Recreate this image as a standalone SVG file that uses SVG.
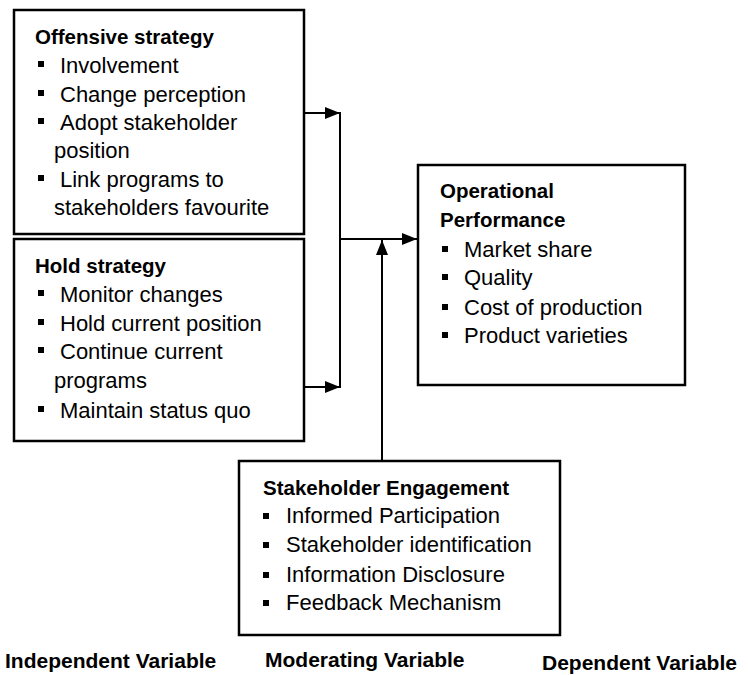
<svg xmlns="http://www.w3.org/2000/svg" width="748" height="675" viewBox="0 0 748 675">
<defs>
<style>
.box{fill:#fff;stroke:#000;stroke-width:2.5}
.t{font-family:"Liberation Sans",Arial,sans-serif;font-size:22px;fill:#000}
.b{font-family:"Liberation Sans",Arial,sans-serif;font-size:20.5px;font-weight:bold;fill:#000}
.lab{font-family:"Liberation Sans",Arial,sans-serif;font-size:21px;font-weight:bold;fill:#000}
.blt{fill:#000}
.c{stroke:#000;stroke-width:2;fill:none}
</style>
<marker id="ah" viewBox="0 0 15 12" refX="15" refY="6" markerWidth="15" markerHeight="12" markerUnits="userSpaceOnUse" orient="auto">
<path d="M0,0 L15,6 L0,12 Z" fill="#000"/>
</marker>
</defs>
<rect width="748" height="675" fill="#fff"/>

<g id="connectors">
<line class="c" x1="305" y1="113" x2="340" y2="113" marker-end="url(#ah)"/>
<line class="c" x1="305" y1="387" x2="340" y2="387" marker-end="url(#ah)"/>
<line class="c" x1="340" y1="112" x2="340" y2="388"/>
<line class="c" x1="340" y1="239" x2="417" y2="239" marker-end="url(#ah)"/>
<line class="c" x1="382" y1="461" x2="382" y2="240" marker-end="url(#ah)"/>
</g>

<g id="offensive">
<rect class="box" x="14" y="10" width="290" height="224"/>
<text class="b" x="35" y="44">Offensive strategy</text>
<rect class="blt" x="38" y="61" width="6" height="6"/>
<text class="t" x="60" y="73">Involvement</text>
<rect class="blt" x="38" y="90" width="6" height="6"/>
<text class="t" x="60" y="102">Change perception</text>
<rect class="blt" x="38" y="118" width="6" height="6"/>
<text class="t" x="60" y="130">Adopt stakeholder</text>
<text class="t" x="54" y="158">position</text>
<rect class="blt" x="38" y="175" width="6" height="6"/>
<text class="t" x="60" y="187">Link programs to</text>
<text class="t" x="54" y="215">stakeholders favourite</text>
</g>

<g id="hold">
<rect class="box" x="14" y="239" width="290" height="202"/>
<text class="b" x="35" y="273">Hold strategy</text>
<rect class="blt" x="38" y="290" width="6" height="6"/>
<text class="t" x="60" y="302">Monitor changes</text>
<rect class="blt" x="38" y="319" width="6" height="6"/>
<text class="t" x="60" y="331">Hold current position</text>
<rect class="blt" x="38" y="347" width="6" height="6"/>
<text class="t" x="60" y="359">Continue current</text>
<text class="t" x="54" y="388">programs</text>
<rect class="blt" x="38" y="406" width="6" height="6"/>
<text class="t" x="60" y="418">Maintain status quo</text>
</g>

<g id="operational">
<rect class="box" x="418" y="165" width="267" height="220"/>
<text class="b" x="440" y="198">Operational</text>
<text class="b" x="440" y="227">Performance</text>
<rect class="blt" x="442" y="246" width="6" height="6"/>
<text class="t" x="464" y="257">Market share</text>
<rect class="blt" x="442" y="274" width="6" height="6"/>
<text class="t" x="464" y="285">Quality</text>
<rect class="blt" x="442" y="304" width="6" height="6"/>
<text class="t" x="464" y="315">Cost of production</text>
<rect class="blt" x="442" y="332" width="6" height="6"/>
<text class="t" x="464" y="343">Product varieties</text>
</g>

<g id="engagement">
<rect class="box" x="239" y="461" width="321" height="174"/>
<text class="b" x="263" y="495">Stakeholder Engagement</text>
<rect class="blt" x="263" y="513" width="6" height="6"/>
<text class="t" x="286" y="523">Informed Participation</text>
<rect class="blt" x="263" y="542" width="6" height="6"/>
<text class="t" x="286" y="552">Stakeholder identification</text>
<rect class="blt" x="263" y="572" width="6" height="6"/>
<text class="t" x="286" y="582">Information Disclosure</text>
<rect class="blt" x="263" y="600" width="6" height="6"/>
<text class="t" x="286" y="610">Feedback Mechanism</text>
</g>

<g id="labels">
<text class="lab" x="5" y="668">Independent Variable</text>
<text class="lab" x="265" y="667">Moderating Variable</text>
<text class="lab" x="542" y="670">Dependent Variable</text>
</g>
</svg>
